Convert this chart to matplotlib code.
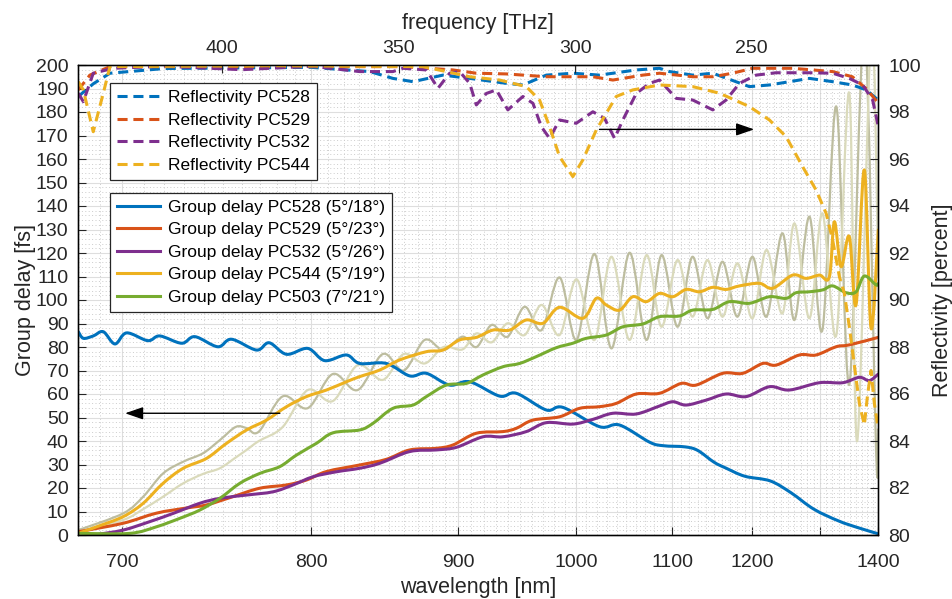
import numpy as np
import matplotlib
matplotlib.use('Agg')
import matplotlib.pyplot as plt
from matplotlib.path import Path
from matplotlib.patches import PathPatch
from matplotlib.lines import Line2D
from matplotlib.ticker import FixedLocator, MultipleLocator, NullFormatter, NullLocator

C_NM_THZ = 299792.458

# ---------------- data ----------------
# Group delay PC528 (5/18)
gd528_wl = [680.2, 682.4, 686.8, 691.3, 696.6, 702.0, 712.0, 717.8, 728.6, 735.3, 747.2, 754.5,
            768.2, 775.3, 785.3, 797.9, 808.2, 821.8, 830.4, 848.1, 864.3, 876.2, 893.4, 908.8,
            932.8, 946.7, 972.8, 987.9, 1022.8, 1043.0, 1074.8, 1090.0, 1115.0, 1130.0, 1150.0,
            1165.0, 1190.0, 1225.0, 1255.0, 1290.0, 1330.0, 1365.0, 1400.0]
gd528_fs = [86.5, 83.7, 84.7, 86.5, 81.3, 86.0, 82.7, 84.7, 81.6, 84.4, 80.1, 83.3,
            78.7, 81.8, 76.9, 79.4, 74.2, 76.6, 73.0, 73.0, 67.7, 68.8, 63.8, 65.2,
            59.1, 60.3, 53.2, 54.3, 46.1, 46.8, 39.5, 38.0, 37.5, 36.0, 31.0,
            28.5, 25.0, 23.0, 18.0, 11.0, 6.0, 3.0, 0.5]

# Group delay PC529 (5/23)
gd529_wl = [680.2, 700.4, 716.2, 731.1, 741.3, 755.2, 770.0, 785.3, 797.1, 809.3, 830.4, 848.1,
            864.3, 883.5, 895.9, 914.0, 935.5, 946.7, 961.0, 984.8, 1003.5, 1022.8, 1039.6,
            1060.5, 1085.8, 1110.5, 1128.2, 1161.1, 1187.2, 1214.4, 1233.3, 1267.7, 1293.5,
            1325.9, 1348.3, 1400.0]
gd529_fs = [1.4, 5.0, 9.3, 11.5, 12.8, 16.3, 19.9, 21.3, 23.4, 27.0, 29.8, 32.2,
            36.2, 36.9, 38.3, 43.3, 44.0, 45.4, 48.9, 50.3, 53.9, 54.6, 56.0,
            60.0, 60.3, 64.5, 63.8, 68.8, 68.8, 73.0, 72.3, 76.6, 76.6,
            80.1, 80.9, 84.1]

# Group delay PC532 (5/26)
gd532_wl = [680.2, 687.0, 700.4, 713.0, 724.4, 737.8, 748.3, 762.7, 777.6, 789.1, 801.1, 815.5,
            830.4, 843.6, 864.3, 883.5, 898.5, 919.3, 935.5, 955.2, 972.8, 997.1, 1016.3,
            1036.2, 1060.5, 1085.8, 1100.8, 1116.3, 1140.4, 1165.4, 1191.7, 1223.8, 1252.7,
            1298.8, 1337.0, 1365.8, 1383.6, 1400.0]
gd532_fs = [-1.0, 0.0, 2.1, 5.7, 9.2, 13.5, 15.6, 17.0, 18.4, 21.3, 24.8, 26.9,
            28.4, 30.5, 35.5, 36.2, 37.3, 41.8, 41.8, 44.0, 47.8, 47.2, 49.2,
            51.8, 51.5, 54.9, 56.7, 55.3, 57.4, 60.0, 58.9, 63.1, 61.7,
            64.8, 64.8, 67.1, 65.7, 68.5]

# Group delay PC544 (5/19)
gd544_wl = [680.2, 688.3, 700.4, 709.8, 719.4, 729.4, 741.3, 751.8, 762.7, 773.8, 785.3, 797.1,
            809.3, 821.8, 830.4, 843.6, 857.3, 876.2, 888.4, 901.0, 914.0, 927.3, 941.1,
            955.2, 969.8, 984.8, 1006.6, 1019.6, 1029.5, 1043.0, 1056.8, 1071.2, 1085.8,
            1100.8, 1116.3, 1132.2, 1148.5, 1165.4, 1182.8, 1209.8, 1228.4, 1257.6, 1277.9,
            1298.8, 1314.9, 1323.1, 1334.3, 1348.3, 1360.0, 1374.6, 1386.7, 1400.0]
gd544_fs = [0.7, 3.5, 7.8, 13.5, 22.0, 28.4, 32.6, 39.0, 44.7, 48.9, 54.6, 58.9,
            61.7, 65.2, 67.4, 70.2, 74.5, 78.0, 78.7, 83.0, 84.1, 87.2, 87.2,
            91.5, 90.1, 96.9, 92.2, 100.7, 97.9, 95.7, 101.4, 99.3, 102.8,
            101.4, 104.5, 103.5, 105.4, 104.5, 106.0, 107.1, 105.0, 110.6, 109.2,
            110.6, 109.9, 133.3, 114.2, 127.0, 98.0, 155.3, 88.0, 129.8]

# Group delay PC503 (7/21)
gd503_wl = [680.2, 703.5, 716.2, 727.7, 737.8, 748.3, 759.0, 770.0, 781.4, 791.1, 803.1, 813.4,
            830.4, 839.1, 852.6, 866.6, 876.2, 891.0, 906.2, 919.3, 935.5, 949.5, 963.9,
            981.8, 997.1, 1009.9, 1029.5, 1046.4, 1067.5, 1085.8, 1108.5, 1124.1, 1148.5,
            1169.7, 1196.1, 1223.8, 1247.8, 1262.7, 1283.1, 1304.1, 1320.3, 1342.7, 1360.0,
            1374.6, 1395.8, 1400.0]
gd503_fs = [0.7, 0.7, 3.5, 7.1, 10.6, 15.6, 22.0, 26.2, 29.1, 34.0, 39.0, 43.5,
            44.7, 47.5, 53.9, 55.3, 58.9, 63.8, 64.5, 68.1, 71.6, 73.0, 75.9,
            79.7, 81.6, 83.7, 85.1, 88.6, 89.8, 92.9, 93.2, 95.7, 96.0,
            99.3, 98.6, 101.4, 100.7, 103.1, 103.5, 104.3, 106.0, 103.1, 103.5,
            110.2, 106.4, 107.0]

# Single-mirror group delays of PC544 (no legend entry), darker and lighter trace
mirA_wl = [680.2, 700.4, 709.8, 719.4, 729.4, 739.5, 748.3, 756.8, 762.7, 769.5, 783.1, 797.9,
           813.2, 829.1, 845.7, 860.1, 875.0, 888.9, 903.3, 914.2, 926.3, 939.4, 953.8,
           968.6, 984.8, 1000.6, 1017.9, 1034.8, 1053.4, 1071.5, 1088.0, 1106.2, 1123.8,
           1142.0, 1160.7, 1180.1, 1200.2, 1219.6, 1242.5, 1260.2, 1283.1, 1303.6, 1326.4,
           1348.3, 1374.6, 1396.0, 1400.0]
mirA_fs = [2.1, 9.2, 16.3, 26.2, 31.2, 34.8, 40.4, 46.0, 45.5, 44.0, 59.0, 54.0,
           68.5, 61.7, 77.0, 70.0, 83.0, 78.7, 84.4, 80.0, 89.4, 84.4, 97.1,
           87.2, 109.6, 83.0, 119.6, 79.4, 120.1, 83.0, 119.1, 88.6, 118.4,
           92.2, 116.3, 92.9, 118.4, 92.9, 128.4, 91.5, 135.5, 87.2, 182.3,
           64.0, 215.0, 35.0, 45.0]
mirB_wl = [680.2, 700.4, 709.8, 719.4, 729.4, 739.5, 748.3, 756.8, 762.7, 769.5, 783.1, 797.9,
           813.2, 829.1, 845.7, 860.1, 875.0, 888.9, 903.3, 914.2, 926.3, 939.4, 953.8,
           968.6, 984.8, 1000.6, 1017.9, 1034.8, 1053.4, 1071.5, 1088.0, 1106.2, 1123.8,
           1142.0, 1160.7, 1180.1, 1200.2, 1219.6, 1242.5, 1260.2, 1283.1, 1303.6, 1326.4,
           1348.3, 1362.0, 1387.2, 1400.0]
mirB_fs = [1.4, 6.4, 11.0, 16.3, 22.0, 26.0, 28.4, 33.0, 36.2, 40.0, 46.0, 61.7,
           57.0, 72.3, 66.0, 77.0, 73.0, 80.0, 79.0, 85.8, 82.0, 90.1, 85.1,
           97.9, 85.1, 108.8, 83.0, 118.4, 83.0, 119.1, 88.6, 117.0, 92.9,
           117.0, 92.9, 115.6, 92.2, 121.3, 94.3, 132.6, 92.2, 136.9, 85.1,
           188.0, 40.0, 215.0, 110.0]

# Reflectivity [percent]
r528_wl = [680.2, 686.8, 694.3, 720.0, 800.0, 837.0, 852.6, 866.6, 888.4, 908.8, 938.3, 952.3,
           972.8, 997.1, 1022.8, 1060.5, 1085.8, 1097.0, 1124.1, 1148.5, 1196.1, 1223.8,
           1283.1, 1320.3, 1353.6, 1378.2, 1400.0]
r528_pc = [98.66, 99.2, 99.65, 99.85, 99.9, 99.72, 99.43, 99.29, 99.57, 99.43, 99.22, 99.15,
           99.57, 99.65, 99.57, 99.79, 99.86, 99.72, 99.57, 99.65, 99.08, 99.15,
           99.43, 99.29, 99.15, 98.94, 98.5]
r529_wl = [680.2, 685.3, 694.3, 860.0, 895.9, 914.0, 938.3, 972.8, 997.1, 1016.3, 1036.2,
           1067.5, 1085.8, 1124.1, 1148.5, 1173.6, 1200.6, 1257.6, 1320.3, 1353.6, 1378.2, 1400.0]
r529_pc = [98.94, 99.57, 99.93, 99.93, 99.79, 99.65, 99.62, 99.5, 99.5, 99.5, 99.36,
           99.57, 99.65, 99.5, 99.5, 99.65, 99.86, 99.86, 99.72, 99.5, 98.99, 98.38]
r532_wl = [680.2, 682.4, 686.8, 695.8, 720.0, 760.0, 800.0, 830.4, 852.6, 859.6, 876.2, 884.7,
           893.4, 901.0, 908.8, 914.0, 922.0, 930.1, 939.6, 952.3, 961.0, 968.3, 975.7,
           984.8, 1000.3, 1016.3, 1027.8, 1037.9, 1046.4, 1060.5, 1074.8, 1085.8, 1104.7,
           1124.1, 1148.5, 1165.4, 1182.8, 1205.3, 1233.3, 1283.1, 1320.3, 1348.3, 1371.6,
           1389.6, 1400.0]
r532_pc = [98.8, 98.44, 99.65, 99.86, 99.95, 99.8, 99.95, 99.72, 99.72, 99.86, 99.79, 99.01,
           99.65, 99.72, 99.22, 98.3, 98.79, 98.94, 98.09, 98.66, 98.37, 97.38, 96.88,
           97.66, 97.52, 98.01, 97.73, 96.88, 97.66, 98.79, 99.22, 99.36, 98.58,
           98.51, 98.09, 98.51, 99.22, 99.57, 99.67, 99.67, 99.65, 99.43, 99.15,
           98.51, 97.38]
r544_wl = [680.2, 682.4, 686.8, 691.3, 694.3, 780.0, 873.7, 891.0, 908.8, 932.8, 955.2, 966.8,
           975.7, 984.8, 997.1, 1006.6, 1019.6, 1039.6, 1056.8, 1085.8, 1124.1, 1156.9,
           1196.1, 1223.8, 1247.8, 1272.7, 1293.5, 1309.6, 1320.3, 1331.5, 1339.9, 1348.3,
           1365.8, 1374.6, 1380.6, 1386.7, 1392.7, 1400.0]
r544_pc = [99.29, 98.94, 97.16, 98.8, 99.93, 99.97, 99.93, 99.72, 99.5, 99.36, 99.08, 98.51,
           97.38, 96.1, 95.25, 95.96, 97.23, 98.66, 98.94, 99.15, 99.08, 98.8,
           98.23, 97.66, 96.95, 95.67, 94.68, 93.69, 92.55, 90.99, 90.28, 88.86,
           85.6, 84.68, 86.0, 87.0, 85.6, 84.5]

# axis ticks
wl_ticks = [700, 800, 900, 1000, 1100, 1200, 1300, 1400]
wl_labels = ['700', '800', '900', '1000', '1100', '1200', '', '1400']
thz_ticks = [400, 350, 300, 250]

# colours
BLUE, ORANGE, YELLOW, PURPLE, GREEN = '#0072BD', '#D95319', '#EDB120', '#7E2F8E', '#77AC30'
KHAKI_D, KHAKI_L = '#bdbd9f', '#dadabb'
AX_COL = '#262626'

plt.rcParams['font.family'] = ['Liberation Sans', 'DejaVu Sans']
plt.rcParams['axes.linewidth'] = 0.9


def smooth_path(xs, ys):
    """Smooth curve (Catmull-Rom Bezier) through the read data points."""
    xs = np.asarray(xs, float)
    ys = np.asarray(ys, float)
    n = len(xs)
    verts = [(xs[0], ys[0])]
    codes = [Path.MOVETO]
    for i in range(n - 1):
        i0 = max(i - 1, 0)
        i3 = min(i + 2, n - 1)
        c1 = (xs[i] + (xs[i + 1] - xs[i0]) / 6.0, ys[i] + (ys[i + 1] - ys[i0]) / 6.0)
        c2 = (xs[i + 1] - (xs[i3] - xs[i]) / 6.0, ys[i + 1] - (ys[i3] - ys[i]) / 6.0)
        verts += [c1, c2, (xs[i + 1], ys[i + 1])]
        codes += [Path.CURVE4] * 3
    return Path(verts, codes)


def draw_curve(axis, xs, ys, color, lw):
    p = PathPatch(smooth_path(xs, ys), fill=False, edgecolor=color, lw=lw,
                  capstyle='round', joinstyle='round')
    axis.add_patch(p)


fig = plt.figure(figsize=(9.52, 5.99), dpi=100)
ax = fig.add_axes([78.3 / 952, 1 - 535 / 599, 800 / 952, 470 / 599])
fwd = lambda l: -1.0 / np.asarray(l, float)
inv = lambda v: -1.0 / np.asarray(v, float)
ax.set_xscale('function', functions=(fwd, inv))
ax2 = ax.twinx()

# group delay curves
draw_curve(ax, mirA_wl, mirA_fs, KHAKI_D, 1.6)
draw_curve(ax, mirB_wl, mirB_fs, KHAKI_L, 1.6)
gd_series = [(gd528_wl, gd528_fs, BLUE), (gd529_wl, gd529_fs, ORANGE),
             (gd532_wl, gd532_fs, PURPLE), (gd544_wl, gd544_fs, YELLOW),
             (gd503_wl, gd503_fs, GREEN)]
for xs, ys, c in gd_series:
    draw_curve(ax, xs, ys, c, 2.2)

XLIM = (680.2, 1400)
ax.set_xlim(*XLIM)
ax.set_ylim(0, 200)

# reflectivity curves
dash = (3.3, 1.9)
r_series = [(r528_wl, r528_pc, BLUE, 'Reflectivity PC528'),
            (r529_wl, r529_pc, ORANGE, 'Reflectivity PC529'),
            (r532_wl, r532_pc, PURPLE, 'Reflectivity PC532'),
            (r544_wl, r544_pc, YELLOW, 'Reflectivity PC544')]
r_handles = []
for xs, ys, c, lab in r_series:
    ln, = ax2.plot(xs, ys, color=c, lw=2.2, ls='--', dashes=dash, label=lab,
                   solid_capstyle='butt', dash_capstyle='butt')
    r_handles.append(ln)
ax2.set_ylim(80, 100)
ax2.set_xlim(*XLIM)

# ticks and grid
for a in (ax, ax2):
    a.tick_params(direction='in', length=6, width=0.8, colors=AX_COL, labelsize=14)
    a.tick_params(which='minor', length=0)
    for s in a.spines.values():
        s.set_color(AX_COL)
ax.tick_params(axis='y', pad=7)
ax2.tick_params(axis='y', pad=7)
ax.tick_params(axis='x', pad=14, top=False)

ax.xaxis.set_major_locator(FixedLocator(wl_ticks))
ax.set_xticklabels(wl_labels)
ax.xaxis.set_minor_locator(FixedLocator(np.arange(680, 1401, 10)))
ax.xaxis.set_minor_formatter(NullFormatter())
ax.yaxis.set_major_locator(MultipleLocator(10))
ax.yaxis.set_minor_locator(MultipleLocator(2))
ax2.yaxis.set_major_locator(MultipleLocator(2))
ax2.yaxis.set_minor_locator(MultipleLocator(0.4))
ax2.xaxis.set_visible(False)

ax.grid(True, which='major', color='#dedede', lw=0.8, ls='-')
ax.grid(True, which='minor', color='#cccccc', lw=0.7, ls=(0, (1, 2.5)))
ax.set_axisbelow(True)

ax.set_xlabel('wavelength [nm]', fontsize=15.5, color=AX_COL, labelpad=4)
ax.set_ylabel('Group delay [fs]', fontsize=15.5, color=AX_COL, labelpad=0)
ax2.set_ylabel('Reflectivity [percent]', fontsize=15.5, color=AX_COL, labelpad=8)

# top frequency axis (same wavelength scale, ticks placed at c/f)
ax3 = ax.twiny()
ax3.set_xscale('function', functions=(fwd, inv))
ax3.set_xlim(*XLIM)
ax3.xaxis.set_major_locator(FixedLocator([C_NM_THZ / f for f in thz_ticks]))
ax3.set_xticklabels([str(f) for f in thz_ticks])
ax3.xaxis.set_minor_locator(NullLocator())
ax3.tick_params(direction='in', length=6, width=0.8, colors=AX_COL, labelsize=14, pad=6)
ax3.set_xlabel('frequency [THz]', fontsize=15.5, color=AX_COL, labelpad=8)
ax3.yaxis.set_visible(False)

# arrows
ax.annotate('', xy=(701.3, 51.8), xytext=(781.4, 51.8),
            arrowprops=dict(arrowstyle='-|>,head_length=1.1,head_width=0.38',
                            color='black', lw=1.0, shrinkA=0, shrinkB=0))
ax2.annotate('', xy=(1202.5, 97.26), xytext=(1022.8, 97.26),
             arrowprops=dict(arrowstyle='-|>,head_length=1.1,head_width=0.38',
                             color='black', lw=1.0, shrinkA=0, shrinkB=0))

# legends
gd_labels = ['Group delay PC528 (5°/18°)', 'Group delay PC529 (5°/23°)',
             'Group delay PC532 (5°/26°)', 'Group delay PC544 (5°/19°)',
             'Group delay PC503 (7°/21°)']
gd_handles = [Line2D([], [], color=c, lw=2.2) for _, _, c in gd_series]

leg_kw = dict(loc='upper left', fontsize=12.5, frameon=True, fancybox=False,
              framealpha=1, edgecolor=AX_COL, borderaxespad=0, handlelength=2.5,
              handletextpad=0.45, labelspacing=0.42, borderpad=0.4)
leg1 = ax2.legend(r_handles, [h.get_label() for h in r_handles],
                  bbox_to_anchor=(0.0396, 0.961), **leg_kw)
leg1.get_frame().set_linewidth(0.9)
ax2.add_artist(leg1)
leg2 = ax2.legend(gd_handles, gd_labels, bbox_to_anchor=(0.0396, 0.728), **leg_kw)
leg2.get_frame().set_linewidth(0.9)
for lg in (leg1, leg2):
    for t in lg.get_texts():
        t.set_color('black')

fig.savefig('out.png', dpi=100)
